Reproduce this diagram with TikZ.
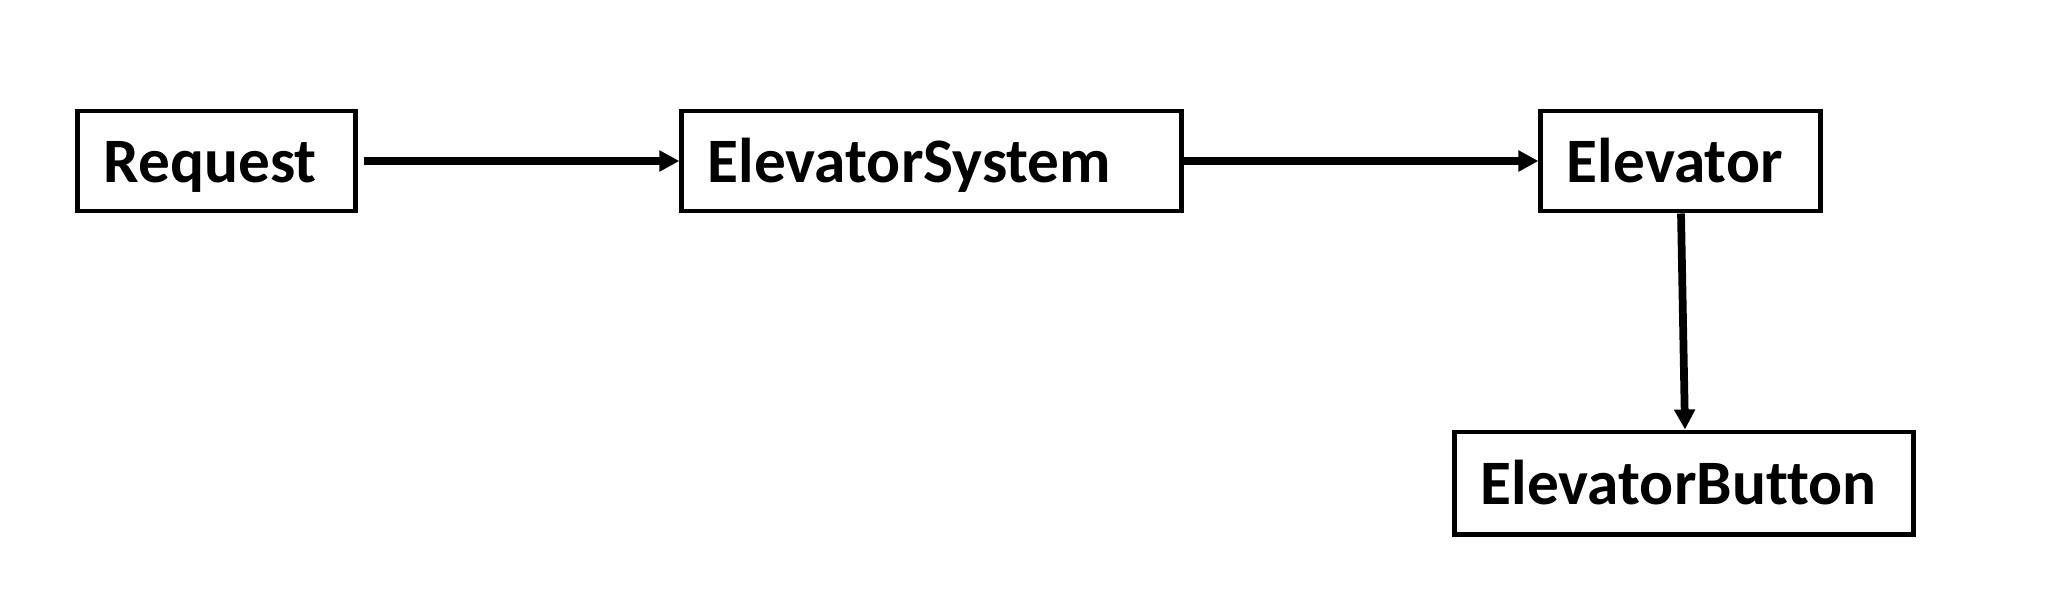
\documentclass[tikz,border=0pt]{standalone}
\usepackage{fontspec}
\setmainfont[Ligatures=NoCommon]{Carlito}
\usetikzlibrary{arrows.meta}
\tikzset{
  cls/.style={draw=black, line width=1.4pt, rectangle, inner xsep=0.26cm, inner ysep=0pt,
    minimum height=1.0cm, text height=0.5cm, text depth=0.08cm, align=left,
    font=\bfseries\fontsize{18}{21}\selectfont, anchor=center},
  conn/.style={line width=2.2pt, -{Triangle[length=0.2cm,width=0.2cm]}}
}
\begin{document}
\begin{tikzpicture}[x=0.01cm,y=-0.01cm]
\useasboundingbox (0,0) rectangle (2046,600);
\node[cls, text width=2.25cm] (req) at (216.5,161) {Request};
\node[cls, text width=4.47cm] (sys) at (931.5,161) {ElevatorSystem};
\node[cls, text width=2.27cm] (elv) at (1680.5,161) {Elevator};
\node[cls, text width=4.06cm, minimum height=1.02cm] (btn) at (1684,483) {ElevatorButton};
\coordinate (a1) at ([xshift=0.06cm]req.east);
\draw[conn] (a1) -- (sys.west);
\draw[conn] (sys.east) -- (elv.west);
\draw[conn] ([xshift=0.005cm]elv.south) -- ([xshift=0.01cm]btn.north);
\end{tikzpicture}
\end{document}
